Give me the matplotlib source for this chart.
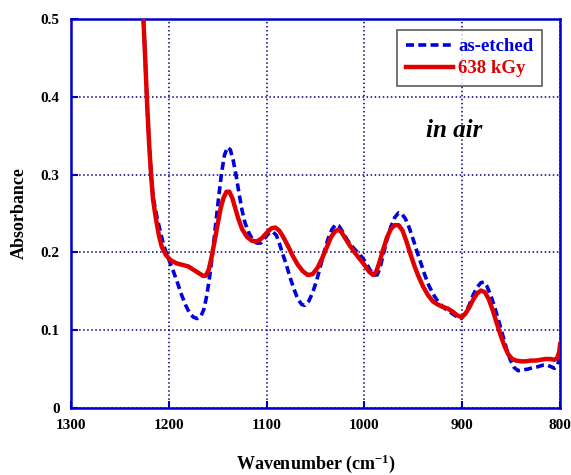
import matplotlib
matplotlib.use('Agg')
import matplotlib.pyplot as plt

plt.rcParams['font.family'] = ['Liberation Serif', 'DejaVu Serif']
plt.rcParams['font.weight'] = 'bold'
plt.rcParams['mathtext.fontset'] = 'custom'
plt.rcParams['mathtext.rm'] = 'Liberation Serif:bold'
plt.rcParams['mathtext.it'] = 'Liberation Serif:bold:italic'
plt.rcParams['mathtext.bf'] = 'Liberation Serif:bold'

# as-etched (blue dashed)
etched_x = [1226, 1224, 1222, 1220, 1218, 1216, 1213, 1211, 1208, 1205, 1202, 1199, 1195, 1191,
            1187, 1183, 1179, 1175, 1171, 1167, 1164, 1161, 1158, 1155, 1152, 1149, 1146, 1143,
            1140, 1137, 1134, 1131, 1128, 1125, 1122, 1118, 1114, 1110, 1106, 1102, 1098, 1094,
            1090, 1087, 1084, 1080, 1076, 1072, 1068, 1064, 1061, 1057, 1053, 1049, 1045, 1041,
            1037, 1033, 1029, 1026, 1022, 1018, 1014, 1010, 1006, 1002, 998, 994, 990, 987, 984,
            981, 977, 973, 969, 965, 962, 958, 954, 950, 946, 942, 938, 934, 930, 926, 922, 918,
            914, 910, 905, 901, 897, 893, 889, 885, 881, 878, 875, 871, 867, 863, 859, 855, 851,
            847, 843, 838, 833, 828, 823, 818, 813, 809, 806, 803, 801, 800]
etched_y = [0.505, 0.45, 0.39, 0.34, 0.30, 0.272, 0.252, 0.240, 0.224, 0.209, 0.198, 0.188, 0.175, 0.161,
            0.146, 0.133, 0.123, 0.117, 0.115, 0.118, 0.127, 0.145, 0.170, 0.200, 0.236, 0.270, 0.302, 0.325,
            0.335, 0.332, 0.318, 0.298, 0.275, 0.254, 0.238, 0.225, 0.216, 0.212, 0.212, 0.218, 0.224, 0.227,
            0.222, 0.212, 0.200, 0.185, 0.168, 0.153, 0.140, 0.133, 0.132, 0.137, 0.148, 0.163, 0.182, 0.201,
            0.218, 0.230, 0.236, 0.234, 0.226, 0.217, 0.210, 0.204, 0.199, 0.193, 0.186, 0.177, 0.171, 0.171, 0.180,
            0.196, 0.216, 0.233, 0.245, 0.251, 0.250, 0.243, 0.231, 0.216, 0.200, 0.185, 0.170, 0.157, 0.147, 0.139, 0.133, 0.128,
            0.125, 0.121, 0.117, 0.115, 0.121, 0.132, 0.145, 0.155, 0.161, 0.162, 0.157, 0.145, 0.130, 0.113, 0.095, 0.077, 0.062,
            0.052, 0.048, 0.049, 0.050, 0.052, 0.053, 0.055, 0.055, 0.053, 0.051, 0.054, 0.062, 0.068]

# 638 kGy (red solid)
irr_x = [1226, 1224, 1222, 1220, 1218, 1216, 1213, 1210, 1207, 1203, 1198, 1192, 1186, 1180, 1175,
         1170, 1165, 1162, 1159, 1156, 1153, 1150, 1147, 1144, 1141, 1138, 1135, 1132, 1129, 1125,
         1120, 1115, 1110, 1105, 1100, 1095, 1091, 1087, 1083, 1078, 1073, 1068, 1063, 1058, 1053,
         1048, 1043, 1038, 1034, 1030, 1027, 1024, 1020, 1015, 1010, 1005, 1000, 995, 991, 988, 985,
         981, 977, 973, 969, 965, 961, 957, 953, 949, 945, 940, 935, 930, 925, 920, 915, 910, 905,
         901, 897, 893, 889, 885, 881, 877, 873, 869, 865, 861, 857, 853, 849, 845, 840, 835, 830,
         825, 820, 815, 810, 806, 803, 801, 800]
irr_y = [0.505, 0.45, 0.39, 0.34, 0.30, 0.268, 0.243, 0.222, 0.207, 0.197, 0.190, 0.186, 0.184, 0.182, 0.178,
         0.174, 0.170, 0.170, 0.178, 0.195, 0.215, 0.236, 0.256, 0.270, 0.278, 0.278, 0.270, 0.257, 0.244, 0.230,
         0.220, 0.215, 0.214, 0.218, 0.225, 0.231, 0.232, 0.228, 0.220, 0.208, 0.195, 0.184, 0.176, 0.171, 0.172,
         0.180, 0.193, 0.208, 0.220, 0.227, 0.229, 0.227, 0.219, 0.209, 0.200, 0.192, 0.184, 0.175, 0.171, 0.175, 0.186,
         0.203, 0.219, 0.230, 0.235, 0.235, 0.228, 0.214, 0.198, 0.183, 0.170, 0.156, 0.145, 0.137, 0.133, 0.130, 0.128, 0.124, 0.119,
         0.117, 0.121, 0.129, 0.139, 0.147, 0.151, 0.149, 0.140, 0.126, 0.110, 0.094, 0.080, 0.069, 0.063, 0.061, 0.060, 0.060, 0.061,
         0.061, 0.062, 0.063, 0.063, 0.062, 0.064, 0.072, 0.082]

x_ticks = [1300, 1200, 1100, 1000, 900, 800]
y_ticks = [0, 0.1, 0.2, 0.3, 0.4, 0.5]
y_ticklabels = ['0', '0.1', '0.2', '0.3', '0.4', '0.5']

fig = plt.figure(figsize=(5.71, 4.75), dpi=100)
ax = fig.add_axes([0.124, 0.141, 0.857, 0.819])

ax.plot(etched_x, etched_y, color='#0000dd', lw=2.6, linestyle=(0, (2.2, 1.2)), label='as-etched', zorder=3)
ax.plot(irr_x, irr_y, color='#e00000', lw=3.2, label='638 kGy', zorder=4)

ax.set_xlim(1300, 800)
ax.set_ylim(0, 0.5)
ax.set_xticks(x_ticks)
ax.set_yticks(y_ticks)
ax.set_yticklabels(y_ticklabels)
ax.grid(True, color='#000080', linestyle=':', lw=1.1)
ax.set_axisbelow(True)

for s in ax.spines.values():
    s.set_color('#0000cc')
    s.set_linewidth(1.8)
ax.tick_params(direction='in', color='#0000cc', width=1.5, length=5,
               labelsize=11, top=False, right=False, pad=8)
for lab in ax.get_xticklabels() + ax.get_yticklabels():
    lab.set_fontweight('bold')

ax.set_xlabel('Wavenumber (cm$^{-1}$)', fontsize=13, fontweight='bold', labelpad=15)
ax.set_ylabel('Absorbance', fontsize=13, fontweight='bold', labelpad=9)

leg = ax.legend(loc='upper right', bbox_to_anchor=(0.963, 0.972), borderaxespad=0,
                frameon=True, fancybox=False, edgecolor='#333333', fontsize=13.5,
                handlelength=2.5, borderpad=0.45, labelspacing=0.25, handletextpad=0.3)
leg.get_frame().set_linewidth(1.2)
for txt, col in zip(leg.get_texts(), ['#0000dd', '#e00000']):
    txt.set_color(col)
    txt.set_fontweight('bold')

ax.text(0.726, 0.697, 'in air', transform=ax.transAxes, fontsize=18,
        fontweight='bold', fontstyle='italic', va='baseline')

fig.savefig('out.png', dpi=100)
